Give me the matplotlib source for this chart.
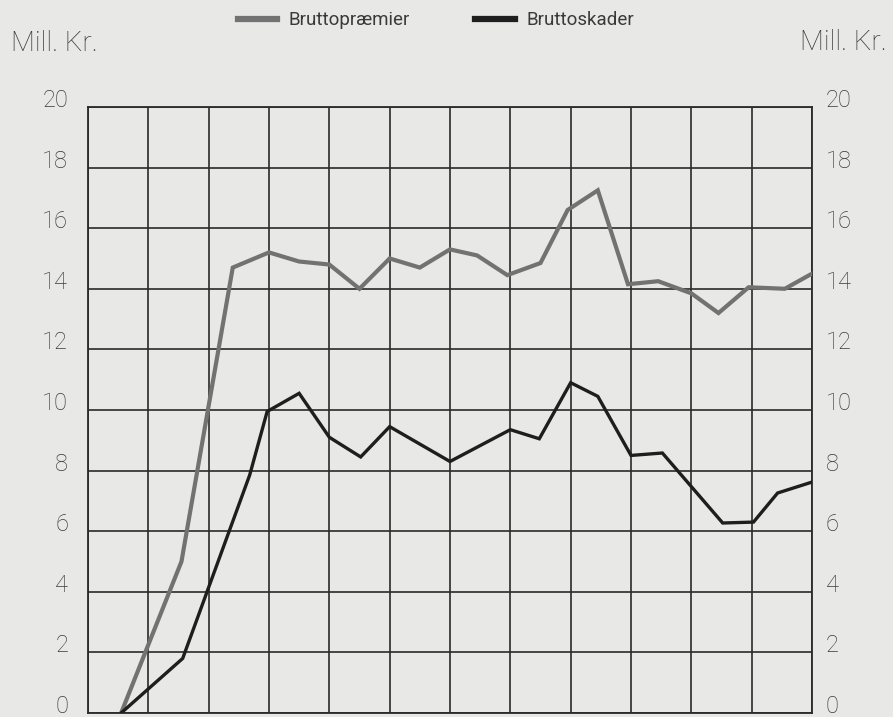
import matplotlib
matplotlib.use("Agg")
import matplotlib.pyplot as plt
import matplotlib.transforms as mtransforms

# x positions in grid-column units (12 columns), values in Mill. Kr.
premier_x = [0.55, 1.55, 2.4, 3.0, 3.5, 4.0, 4.5, 5.0, 5.5, 6.0, 6.45, 6.95,
             7.5, 7.95, 8.45, 8.95, 9.45, 10.0, 10.45, 10.95, 11.55, 12.0]
premier = [0.0, 5.0, 14.7, 15.2, 14.9, 14.8, 14.0, 15.0, 14.7, 15.3, 15.1, 14.45,
           14.85, 16.6, 17.25, 14.15, 14.25, 13.85, 13.2, 14.05, 14.0, 14.5]

skader_x = [0.55, 1.57, 2.68, 2.97, 3.5, 4.0, 4.52, 5.0, 6.0, 7.0, 7.48, 8.0,
            8.45, 9.0, 9.52, 10.52, 11.03, 11.43, 12.0]
skader = [0.0, 1.8, 7.85, 9.95, 10.55, 9.1, 8.45, 9.45, 8.3, 9.35, 9.05, 10.9,
          10.45, 8.5, 8.58, 6.27, 6.3, 7.26, 7.62]

yticks = [0, 2, 4, 6, 8, 10, 12, 14, 16, 18, 20]
xgrid = list(range(13))

bg = "#e8e8e6"
txt = "#3a3a3a"
plt.rcParams["font.family"] = ["Roboto", "DejaVu Sans"]

fig = plt.figure(figsize=(8.93, 7.17), dpi=100, facecolor=bg)
ax = fig.add_axes([0.0985, 0.0056, 0.8108, 0.8452])
ax.set_facecolor(bg)

ax.set_xlim(0, 12)
ax.set_ylim(0, 20)
ax.set_xticks(xgrid)
ax.set_yticks(yticks)
ax.grid(True, color="#2a2a2a", linewidth=1.2)
ax.set_axisbelow(True)
for s in ax.spines.values():
    s.set_color("#2a2a2a")
    s.set_linewidth(1.3)

ax.plot(premier_x, premier, color="#727272", linewidth=3.0, solid_joinstyle="miter",
        label="Bruttopræmier", zorder=3)
ax.plot(skader_x, skader, color="#1e1e1e", linewidth=2.4, solid_joinstyle="miter",
        label="Bruttoskader", zorder=4)

ax.tick_params(axis="x", length=0, labelbottom=False)
ax.tick_params(axis="y", length=0, left=True, right=True,
               labelleft=True, labelright=True, pad=10)
ax.set_yticklabels([str(v) for v in yticks])
# labels sit a little above the grid lines; left column a bit further out
off_left = mtransforms.ScaledTranslation(-6 / 100, 9 / 100, fig.dpi_scale_trans)
off_right = mtransforms.ScaledTranslation(0, 9 / 100, fig.dpi_scale_trans)
for t in ax.yaxis.get_major_ticks():
    for lab, off in ((t.label1, off_left), (t.label2, off_right)):
        lab.set_transform(lab.get_transform() + off)
        lab.set_fontweight("light")
        lab.set_fontsize(17)
        lab.set_color(txt)

fig.text(0.012, 0.939, "Mill. Kr.", fontsize=20, fontweight="light",
         color=txt, va="center", ha="left")
fig.text(0.993, 0.941, "Mill. Kr.", fontsize=20, fontweight="light",
         color=txt, va="center", ha="right")

leg = fig.legend(loc="upper center", bbox_to_anchor=(0.488, 1.008), ncol=2,
                 frameon=False, fontsize=13.5, handlelength=2.1, handletextpad=0.6,
                 columnspacing=3.5)
for h in leg.get_lines():
    h.set_linewidth(4.5)
for t in leg.get_texts():
    t.set_color(txt)

fig.savefig("out.png", dpi=100, facecolor=bg)
